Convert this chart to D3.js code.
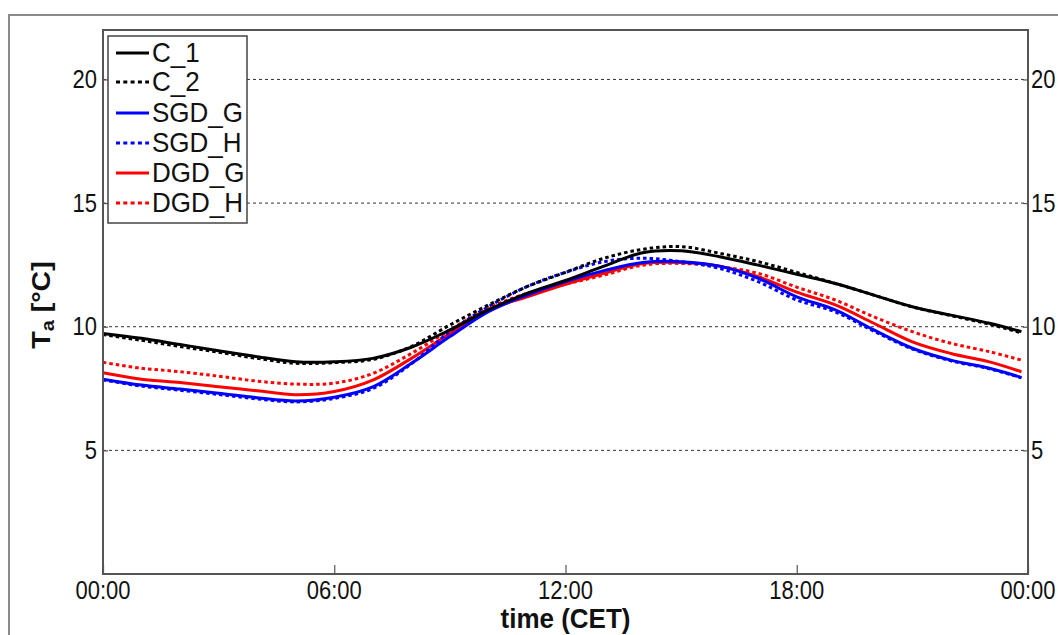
<!DOCTYPE html>
<html><head><meta charset="utf-8">
<script src="https://cdn.jsdelivr.net/npm/d3@7"></script>
<style>body{margin:0;background:#fff}svg{display:block}text{font-family:"Liberation Sans",Arial,sans-serif}</style>
</head><body>
<script>
const hours = [0,1,2,3,4,5,6,7,8,9,10,11,12,13,14,15,16,17,18,19,20,21,22,23,23.83];
const C_1   = [9.73,9.53,9.28,9.03,8.79,8.58,8.58,8.72,9.17,9.87,10.68,11.35,11.87,12.45,12.99,13.07,12.83,12.49,12.12,11.75,11.28,10.81,10.47,10.14,9.80];
const C_2   = [9.68,9.45,9.20,8.97,8.72,8.52,8.55,8.68,9.20,10.07,10.88,11.62,12.20,12.77,13.13,13.24,12.97,12.63,12.20,11.75,11.28,10.80,10.45,10.10,9.75];
const SGD_G = [7.88,7.64,7.48,7.31,7.13,7.00,7.15,7.57,8.52,9.60,10.61,11.28,11.83,12.27,12.60,12.63,12.45,11.96,11.21,10.68,9.87,9.13,8.65,8.32,7.95];
const SGD_H = [7.85,7.60,7.43,7.26,7.08,6.96,7.10,7.50,8.50,9.80,10.81,11.62,12.20,12.63,12.77,12.63,12.36,11.82,11.08,10.60,9.82,9.10,8.62,8.30,7.93];
const DGD_G = [8.14,7.88,7.74,7.57,7.41,7.25,7.38,7.84,8.72,9.73,10.68,11.21,11.72,12.16,12.56,12.60,12.45,12.02,11.40,10.88,10.14,9.39,8.92,8.58,8.18];
const DGD_H = [8.56,8.32,8.18,8.00,7.80,7.68,7.72,8.11,8.92,9.87,10.75,11.35,11.72,12.09,12.49,12.56,12.43,12.16,11.60,11.08,10.40,9.80,9.33,8.99,8.65];
const seriesNames = ["C_1","C_2","SGD_G","SGD_H","DGD_G","DGD_H"];
const seriesColors = ["#000000","#000000","#0000ff","#0000ff","#ff0000","#ff0000"];
const seriesDotted = [false,true,false,true,false,true];
const yTicks = [5,10,15,20];
const xTicks = [0,6,12,18,24];
const xTickLabels = ["00:00","06:00","12:00","18:00","00:00"];

const W=1058,H=635;
const svg=d3.select("body").append("svg").attr("width",W).attr("height",H);
const L=103,R=1028,T=30,B=574;
const x=d3.scaleLinear().domain([0,24]).range([L,R]);
const y=d3.scaleLinear().domain([0,22]).range([B,T]);

// outer frame
svg.append("rect").attr("x",9).attr("y",15).attr("width",W+20).attr("height",H+20)
  .attr("fill","#fff").attr("stroke","#8a8a8a").attr("stroke-width",2);

function stretchText(g,tx,ty,txt,opts){
  const sy=opts.sy||1.15;
  const t=g.append("text").attr("transform",`translate(${tx},${ty}) scale(1,${sy})`)
    .attr("text-anchor",opts.anchor||"middle").attr("dominant-baseline","central")
    .attr("font-size",opts.size||22).attr("font-weight",opts.weight||"normal").attr("fill","#111").text(txt);
  return t;
}

// grid
svg.append("g").selectAll("line").data(yTicks).join("line")
  .attr("x1",L).attr("x2",R).attr("y1",d=>y(d)).attr("y2",d=>y(d))
  .attr("stroke","#333").attr("stroke-width",1).attr("stroke-dasharray","3,3");

// series
const line=d3.line().x((d,i)=>x(hours[i])).y(d=>y(d)).curve(d3.curveCatmullRom);
const allSeries=[C_1,C_2,SGD_G,SGD_H,DGD_G,DGD_H];
const drawOrder=[4,5,2,3,0,1];
drawOrder.forEach(k=>{
  svg.append("path").attr("d",line(allSeries[k])).attr("fill","none")
    .attr("stroke",seriesColors[k]).attr("stroke-width",3)
    .attr("stroke-dasharray",seriesDotted[k]?"3.5,3":null);
});

// axes using d3 axis
const axL=svg.append("g").attr("transform",`translate(${L},0)`).call(d3.axisRight(y).tickValues(yTicks).tickSize(5).tickFormat(""));
const axR=svg.append("g").attr("transform",`translate(${R},0)`).call(d3.axisLeft(y).tickValues(yTicks).tickSize(5).tickFormat(""));
const axB=svg.append("g").attr("transform",`translate(0,${B})`).call(d3.axisTop(x).tickValues(xTicks).tickSize(9).tickFormat(""));
[axL,axR,axB].forEach(a=>{a.select(".domain").remove();a.selectAll("line").attr("stroke","#555").attr("stroke-width",1.2);});
// box
svg.append("rect").attr("x",L).attr("y",T).attr("width",R-L).attr("height",B-T)
  .attr("fill","none").attr("stroke","#555").attr("stroke-width",2);

// tick labels
const lab=svg.append("g");
yTicks.forEach(v=>{
  stretchText(lab,L-6,y(v),String(v),{anchor:"end"});
  stretchText(lab,R+3,y(v),String(v),{anchor:"start"});
});
xTicks.forEach((v,i)=>stretchText(lab,x(v),590,xTickLabels[i],{}));

// axis titles
stretchText(lab,(L+R)/2,619,"time (CET)",{weight:"bold",size:26,sy:1.05});
const yl=svg.append("text").attr("transform","translate(40,305) rotate(-90) scale(1.1,1)")
  .attr("text-anchor","middle").attr("dominant-baseline","central")
  .attr("font-size",26).attr("font-weight","bold").attr("fill","#111");
yl.append("tspan").text("T");
yl.append("tspan").attr("font-size",18).attr("dy",7).text("a");
yl.append("tspan").attr("dy",-7).text(" [°C]");

// legend
const lg=svg.append("g");
lg.append("rect").attr("x",108).attr("y",36).attr("width",139).attr("height",187)
  .attr("fill","#fff").attr("stroke","#444").attr("stroke-width",1.5);
const legY=[53,82,113,143,173,203];
seriesNames.forEach((n,i)=>{
  lg.append("line").attr("x1",116).attr("x2",149).attr("y1",legY[i]).attr("y2",legY[i])
    .attr("stroke",seriesColors[i]).attr("stroke-width",3)
    .attr("stroke-dasharray",seriesDotted[i]?"4,3.3":null);
  stretchText(lg,152,legY[i],n,{anchor:"start",size:26,sy:1.05});
});
</script>
</body></html>
